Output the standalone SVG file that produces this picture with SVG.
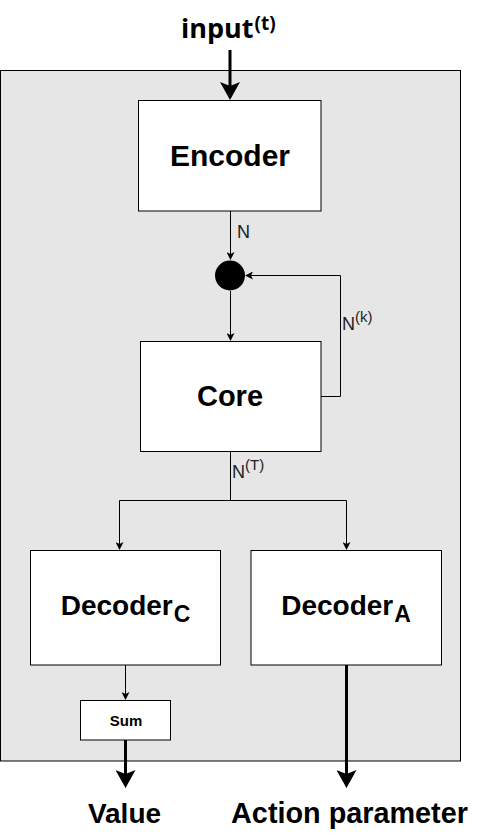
<svg xmlns="http://www.w3.org/2000/svg" width="479" height="840" viewBox="0 0 479 840">
<style>
.box{fill:#ffffff;stroke:#000000;stroke-width:1}
.frame{fill:#e6e6e6;stroke:#000000;stroke-width:1}
.thin{fill:none;stroke:#000000;stroke-width:1}
.thick{fill:none;stroke:#000000;stroke-width:3}
.lbl{font-family:"Liberation Sans",Arial,sans-serif;font-weight:bold;fill:#000000}
.edge{font-family:"Liberation Sans",Arial,sans-serif;fill:#222222;font-size:18px}
</style>
<defs>
<marker id="ah" viewBox="0 0 8 8" refX="2" refY="4" markerWidth="8" markerHeight="8" markerUnits="userSpaceOnUse" orient="auto">
<path d="M0,0 L8,4 L0,8 L2,4 Z" fill="#000000"/>
</marker>
<marker id="ahBig" viewBox="0 0 18 20" refX="4" refY="10" markerWidth="18" markerHeight="20" markerUnits="userSpaceOnUse" orient="auto">
<path d="M0,0 L18,10 L0,20 L4,10 Z" fill="#000000"/>
</marker>
</defs>
<g id="container">
<rect class="frame" x="0.5" y="70.5" width="460" height="690.5"/>
</g>
<g id="input-label">
<text class="lbl" x="181" y="38" style="font-family:'Open Sans','Liberation Sans',sans-serif;font-size:27px">input<tspan font-size="19" dy="-8" dx="1">(t)</tspan></text>
</g>
<g id="encoder">
<rect class="box" x="138.5" y="100.5" width="182.5" height="110.5"/>
<text class="lbl" x="230" y="166" text-anchor="middle" font-size="30">Encoder</text>
</g>
<g id="merge">
<circle cx="230" cy="275.5" r="15" fill="#000000"/>
</g>
<g id="core">
<rect class="box" x="140.5" y="341.5" width="180.5" height="110"/>
<text class="lbl" x="230" y="406" text-anchor="middle" font-size="29">Core</text>
</g>
<g id="decoder-c">
<rect class="box" x="30.5" y="550.5" width="190" height="114.5"/>
<text class="lbl" x="125.5" y="615" text-anchor="middle" font-size="28">Decoder<tspan font-size="23" dy="7" dx="1">C</tspan></text>
</g>
<g id="decoder-a">
<rect class="box" x="251" y="550.5" width="190.5" height="114.5"/>
<text class="lbl" x="346" y="615" text-anchor="middle" font-size="28">Decoder<tspan font-size="23" dy="7" dx="1">A</tspan></text>
</g>
<g id="sum">
<rect class="box" x="80.5" y="700.5" width="90" height="39.5"/>
<text class="lbl" x="126" y="725.5" text-anchor="middle" font-size="15">Sum</text>
</g>
<g id="value-label">
<text class="lbl" x="124.5" y="823" text-anchor="middle" font-size="28">Value</text>
</g>
<g id="action-label">
<text class="lbl" x="349.5" y="823" text-anchor="middle" font-size="28.8">Action parameter</text>
</g>
<g id="connectors">
<path class="thick" d="M230,50 V86" marker-end="url(#ahBig)"/>
<path class="thin" d="M230.5,211 V254" marker-end="url(#ah)"/>
<path class="thin" d="M230.5,291 V335" marker-end="url(#ah)"/>
<path class="thin" d="M321,396.5 H340.5 V275.5 H251" marker-end="url(#ah)"/>
<path class="thin" d="M230.5,451.5 V500.5 H119.5 V544" marker-end="url(#ah)"/>
<path class="thin" d="M230.5,500.5 H346.5 V544" marker-end="url(#ah)"/>
<path class="thin" d="M125.5,665 V694" marker-end="url(#ah)"/>
<path class="thick" d="M125.5,740 V774" marker-end="url(#ahBig)"/>
<path class="thick" d="M346.5,665 V774" marker-end="url(#ahBig)"/>
<text class="edge" x="237" y="238">N</text>
<text class="edge" x="342" y="330">N<tspan font-size="15" dy="-8">(k)</tspan></text>
<text class="edge" x="232" y="478">N<tspan font-size="15" dy="-8">(T)</tspan></text>
</g>
</svg>
